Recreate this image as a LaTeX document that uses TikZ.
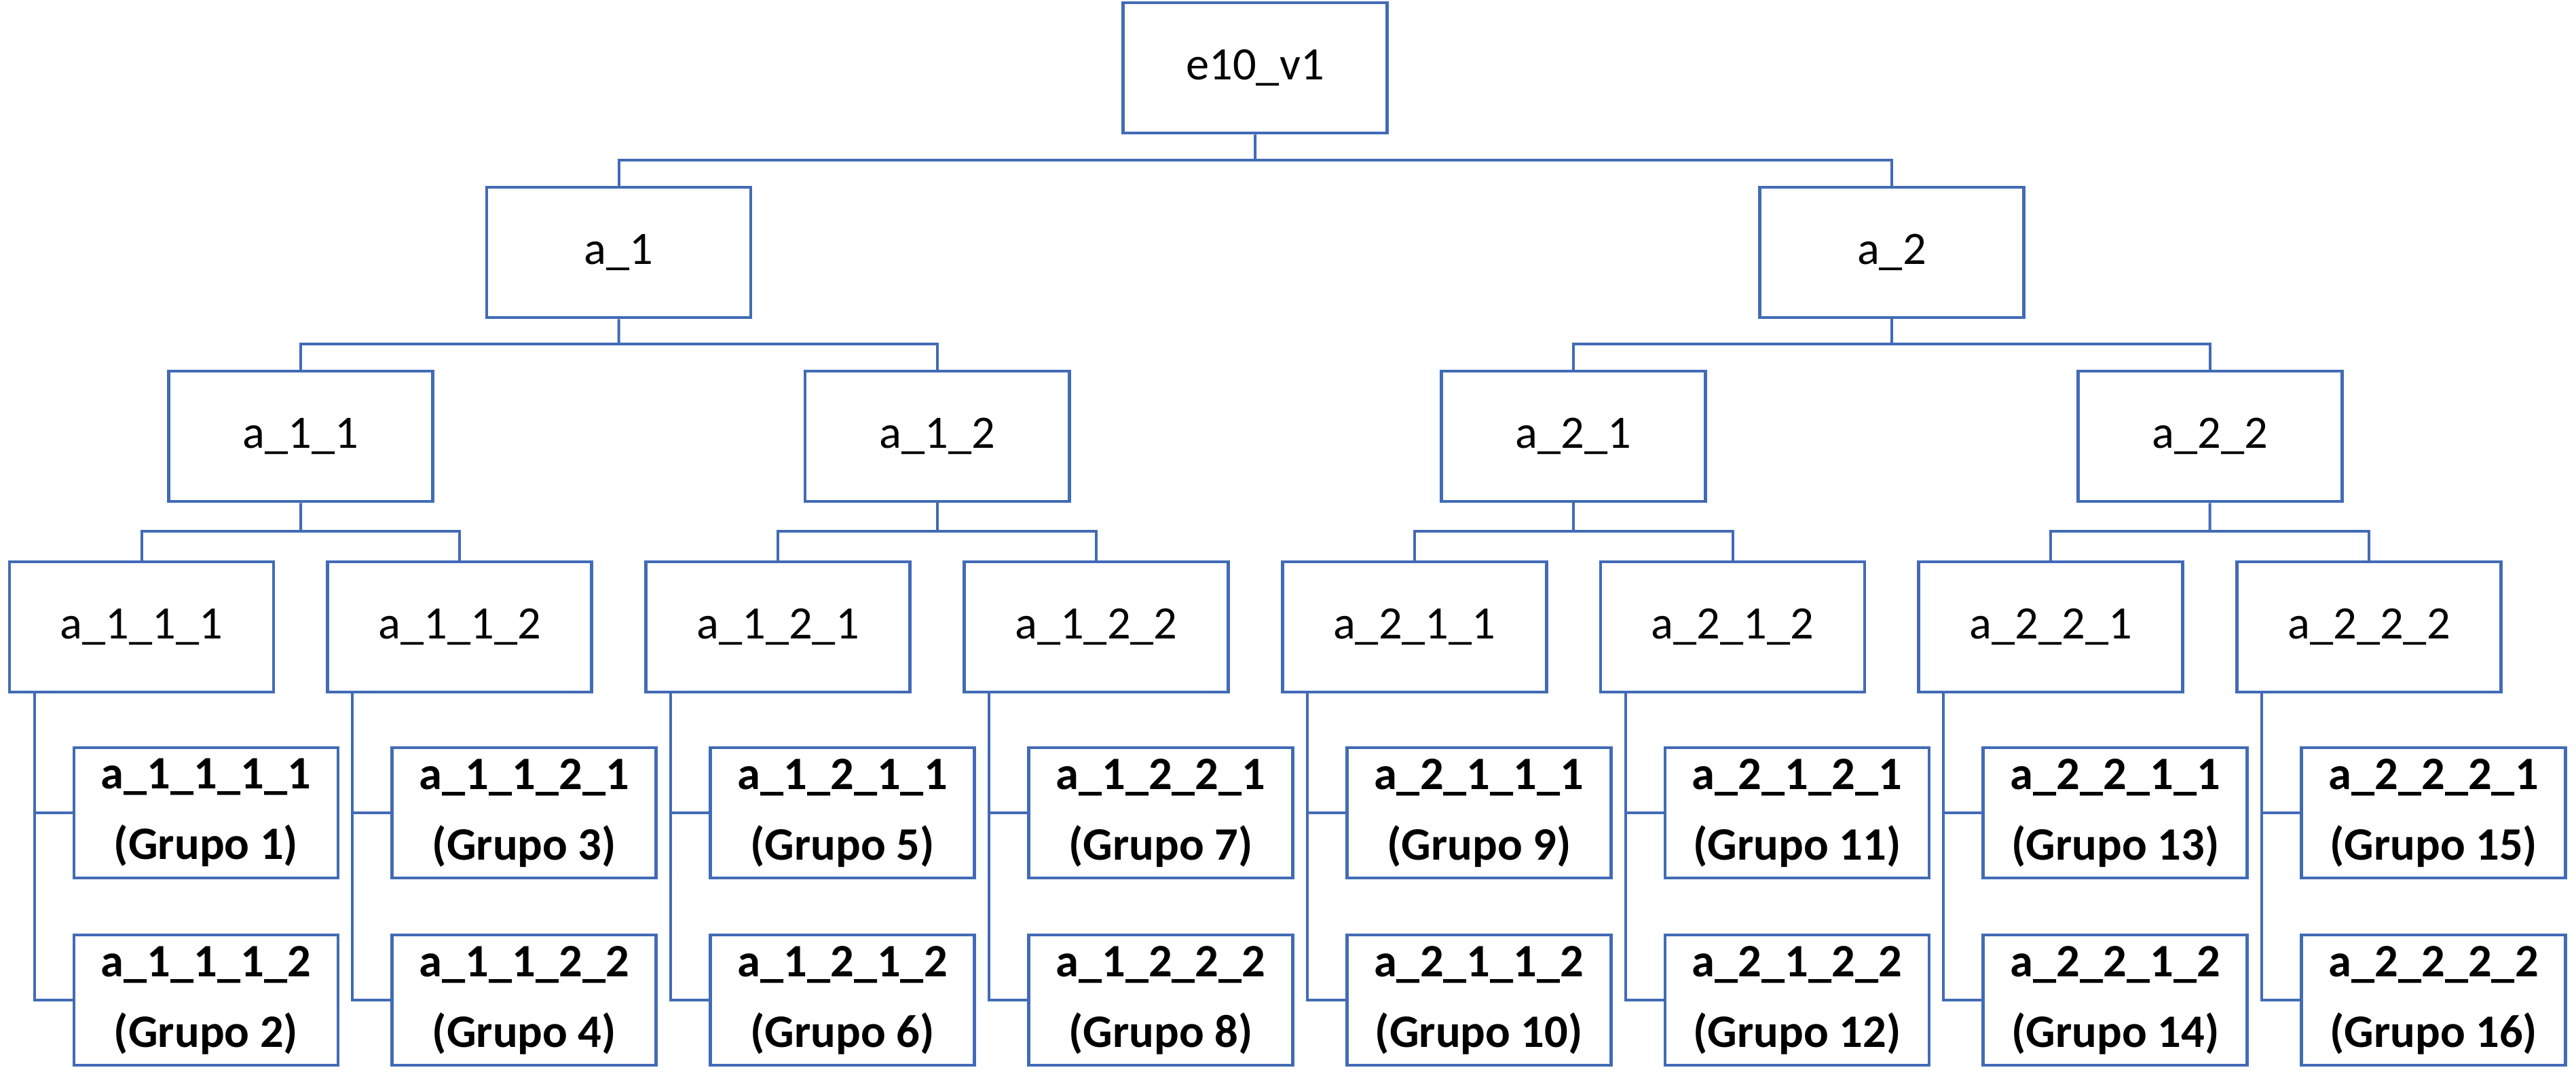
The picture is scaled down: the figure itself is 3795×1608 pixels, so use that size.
\documentclass[tikz,border=0pt]{standalone}
\usepackage{fontspec}
\setmainfont{Carlito}
\usetikzlibrary{calc}
\definecolor{boxblue}{RGB}{65,107,182}
\begin{document}
\begin{tikzpicture}[x=0.2pt,y=-0.2pt,
  box/.style={draw=boxblue, line width=0.95pt, minimum width=77.8pt, minimum height=38.4pt,
              inner sep=0pt, font=\fontsize{13.7pt}{16pt}\selectfont},
  leaf/.style={box, minimum width=77.8pt, align=center,
              font=\fontsize{13.7pt}{20.8pt}\selectfont\bfseries},
  conn/.style={draw=boxblue, line width=0.8pt}]
\useasboundingbox (0,0) rectangle (3795,1608);
% top levels
\node[box] (r)   at (1849,100)   {e10\_v1};
\node[box] (a1)  at (911.6,372)  {a\_1};
\node[box] (a2)  at (2786.9,372) {a\_2};
\node[box] (a11) at (443,643)    {a\_1\_1};
\node[box] (a12) at (1380.6,643) {a\_1\_2};
\node[box] (a21) at (2318.1,643) {a\_2\_1};
\node[box] (a22) at (3255.6,643) {a\_2\_2};
% buses
\coordinate (b0) at ($(r.south)!0.5!(r.south |- a1.north)$);
\draw[conn] (r.south) -- (b0);
\draw[conn] (a1.north) |- (b0) -| (a2.north);
\foreach \p in {1,2}{
  \coordinate (b\p) at ($(a\p.south)!0.5!(a\p.south |- a\p1.north)$);
  \draw[conn] (a\p.south) -- (b\p);
  \draw[conn] (a\p1.north) |- (b\p) -| (a\p2.north);
}
% level 3 and leaves
\foreach \a/\b/\c [count=\k from 0] in {1/1/1,1/1/2,1/2/1,1/2/2,2/1/1,2/1/2,2/2/1,2/2/2}{
  \pgfmathsetmacro\xx{208.5+468.8*\k}
  \pgfmathtruncatemacro\ga{2*\k+1}
  \pgfmathtruncatemacro\gb{2*\k+2}
  \node[box] (n\a\b\c) at (\xx,924) {a\_\a\_\b\_\c};
  \node[leaf] (n\a\b\c1) at (\xx+95,1198) {a\_\a\_\b\_\c\_1\\(Grupo \ga)};
  \node[leaf] (n\a\b\c2) at (\xx+95,1474) {a\_\a\_\b\_\c\_2\\(Grupo \gb)};
  \coordinate (s\a\b\c) at ([xshift=7.8pt]n\a\b\c.south west);
  \draw[conn] (s\a\b\c) |- (n\a\b\c2.west);
  \draw[conn] (n\a\b\c1.west) -- (n\a\b\c1.west -| s\a\b\c);
}
\foreach \a/\b in {1/1,1/2,2/1,2/2}{
  \coordinate (c\a\b) at ($(a\a\b.south)!0.5!(a\a\b.south |- n\a\b1.north)$);
  \draw[conn] (a\a\b.south) -- (c\a\b);
  \draw[conn] (n\a\b1.north) |- (c\a\b) -| (n\a\b2.north);
}
\end{tikzpicture}
\end{document}
